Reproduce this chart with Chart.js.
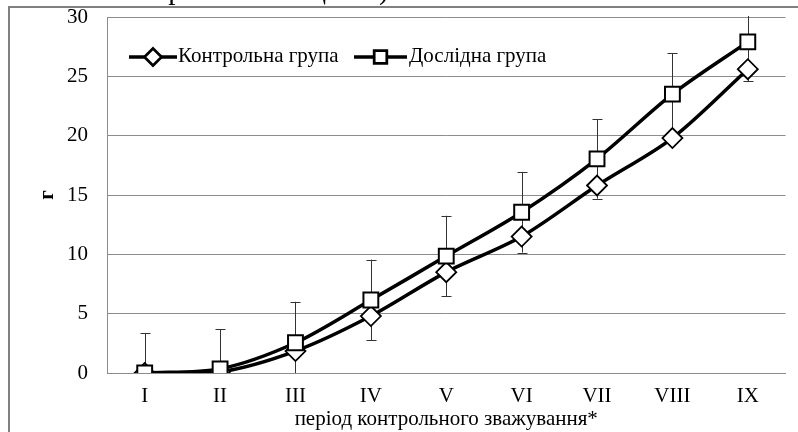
<!DOCTYPE html>
<html>
<head>
<meta charset="utf-8">
<script src="https://cdn.jsdelivr.net/npm/chart.js@4"></script>
<style>
  body { margin: 0; background: #fff; overflow: hidden; }
  #wrap { position: relative; width: 798px; height: 432px; }
  #above { position: absolute; top: -27px; right: 402px; font: 29px "Liberation Serif"; white-space: nowrap; }
  #frame { position: absolute; left: 8px; top: 6px; width: 800px; height: 440px; border: 2px solid #808080; pointer-events: none; }
</style>
</head>
<body>
<div id="wrap">
  <div id="above">ю проміжних оцінки).</div>
  <canvas id="chart"></canvas>
  <div id="frame"></div>
</div>
<script>
const periods = ['I', 'II', 'III', 'IV', 'V', 'VI', 'VII', 'VIII', 'IX'];
const controlGroup = [0, 0.1, 1.85, 4.8, 8.5, 11.5, 15.8, 19.8, 25.6];
const testGroup = [0, 0.35, 2.55, 6.15, 9.85, 13.55, 18.05, 23.5, 27.9];
const testGroupErr = [3.35, 3.35, 3.45, 3.4, 3.4, 3.4, 3.35, 3.45, 3.3];
const yTicks = [0, 5, 10, 15, 20, 25, 30];

const serif = 'Liberation Serif';
const fontSize = 21;
const ctx = document.getElementById('chart').getContext('2d');

// +/- bars for the test group, drawn under the markers
const errorBars = {
  id: 'errorBars',
  beforeDatasetsDraw(chart) {
    const { ctx, chartArea, scales: { x, y } } = chart;
    ctx.save();
    ctx.beginPath();
    ctx.rect(chartArea.left, chartArea.top - 1, chartArea.width, chartArea.height + 1);
    ctx.clip();
    ctx.strokeStyle = '#333';
    ctx.lineWidth = 1;
    testGroup.forEach((v, i) => {
      const px = Math.round(x.getPixelForValue(i)) + 0.5;
      const top = y.getPixelForValue(v + testGroupErr[i]);
      const bot = y.getPixelForValue(v - testGroupErr[i]);
      ctx.beginPath();
      ctx.moveTo(px, top);
      ctx.lineTo(px, bot);
      ctx.moveTo(px - 5, Math.round(top) + 0.5);
      ctx.lineTo(px + 5, Math.round(top) + 0.5);
      ctx.moveTo(px - 5, Math.round(bot) + 0.5);
      ctx.lineTo(px + 5, Math.round(bot) + 0.5);
      ctx.stroke();
    });
    ctx.restore();
  }
};

// legend inside the plot: line + marker + label
const lineLegend = {
  id: 'lineLegend',
  afterDraw(chart) {
    const { ctx } = chart;
    const items = [
      { ds: 0, x0: 129, x1: 177, tx: 178 },
      { ds: 1, x0: 354, x1: 407, tx: 409 }
    ];
    const yy = 57;
    ctx.save();
    items.forEach(it => {
      const ds = chart.data.datasets[it.ds];
      ctx.strokeStyle = ds.borderColor;
      ctx.lineWidth = ds.borderWidth;
      ctx.beginPath();
      ctx.moveTo(it.x0, yy);
      ctx.lineTo(it.x1, yy);
      ctx.stroke();
      Chart.helpers.drawPoint(ctx, {
        pointStyle: ds.pointStyle,
        radius: ds.pointRadius * 0.8,
        borderWidth: ds.pointBorderWidth
      }, (it.x0 + it.x1) / 2, yy);
      ctx.fillStyle = '#fff';
      ctx.strokeStyle = '#000';
      ctx.lineWidth = ds.pointBorderWidth;
      ctx.fill();
      ctx.stroke();
      ctx.fillStyle = '#000';
      ctx.font = `${fontSize}px "${serif}"`;
      ctx.textBaseline = 'middle';
      ctx.fillText(ds.label, it.tx, yy - 1);
    });
    ctx.restore();
  }
};

new Chart(ctx, {
  type: 'line',
  data: {
    labels: periods,
    datasets: [{
      label: 'Контрольна група',
      data: controlGroup,
      order: 1,
      borderColor: '#000',
      borderWidth: 3.5,
      tension: 0.3,
      pointStyle: 'rectRot',
      pointRadius: 10,
      pointBorderWidth: 1.8,
      pointBackgroundColor: '#fff',
      pointBorderColor: '#000'
    }, {
      label: 'Дослідна група',
      data: testGroup,
      order: 0,
      borderColor: '#000',
      borderWidth: 3.5,
      tension: 0.3,
      pointStyle: 'rect',
      pointRadius: 10.5,
      pointBorderWidth: 2,
      pointBackgroundColor: '#fff',
      pointBorderColor: '#000'
    }]
  },
  options: {
    responsive: true,
    maintainAspectRatio: false,
    animation: false,
    layout: { padding: { top: 17, right: 10, left: 0, bottom: 0 } },
    plugins: { legend: { display: false }, tooltip: { enabled: false } },
    scales: {
      x: {
        offset: true,
        grid: { display: false, drawTicks: false },
        border: { display: true, color: '#8c8c8c' },
        ticks: { color: '#000', padding: 11, font: { family: serif, size: fontSize } },
        title: { display: true, text: 'період контрольного зважування*', color: '#000',
                 padding: { top: 0, bottom: 0 }, font: { family: serif, size: fontSize } },
        afterFit: s => { s.height = 59; }
      },
      y: {
        min: 0,
        max: 30,
        afterBuildTicks: s => { s.ticks = yTicks.map(v => ({ value: v })); },
        grid: { color: '#8c8c8c', drawTicks: false },
        border: { display: true, color: '#8c8c8c' },
        ticks: { color: '#000', padding: 19, font: { family: serif, size: fontSize } },
        title: { display: true, text: 'г', color: '#000',
                 padding: { top: 35, bottom: 0 }, font: { family: serif, size: fontSize, weight: 'bold' } },
        afterFit: s => {
          s.width = 107;
          // tick padding should not push the plot top down
          s.paddingTop = 0;
          s.paddingBottom = 0;
        }
      }
    }
  },
  plugins: [errorBars, lineLegend]
});
</script>
</body>
</html>
